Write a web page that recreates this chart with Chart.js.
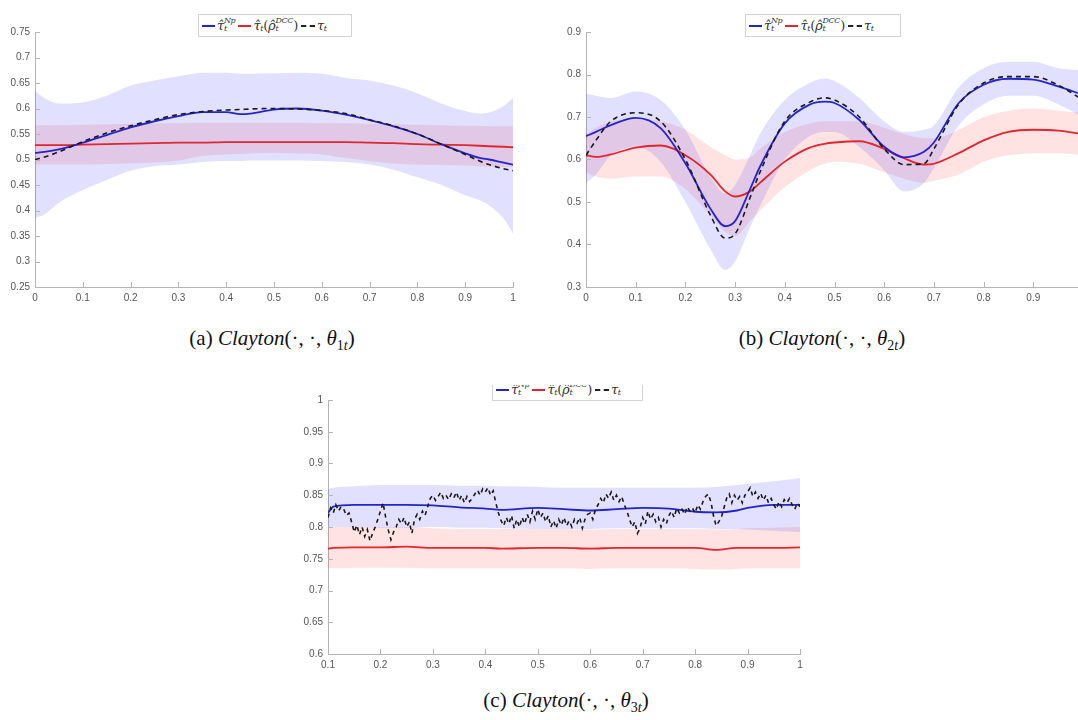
<!DOCTYPE html>
<html>
<head>
<meta charset="utf-8">
<script src="https://cdn.jsdelivr.net/npm/chart.js@4"></script>
<style>
  body { margin: 0; width: 1078px; height: 720px; overflow: hidden; background: #fff; position: relative; }
  .wrap { position: absolute; }
  .legend {
    position: absolute; background: #fff; border: 1px solid #d2d2d2; height: 23px;
    display: flex; align-items: center; box-sizing: border-box; padding: 0 3px;
    font: italic 13px 'DejaVu Serif', serif; color: #333; white-space: nowrap; letter-spacing: -0.3px;
  }
  .sw { display: inline-block; width: 13px; height: 0; border-top: 2px solid; margin-right: 2px; }
  .sw.dash { border-top: 2px dashed #222; width: 14px; }
  .stack { display: inline-flex; flex-direction: column; font-size: 8px; line-height: 8px; position: relative; top: -1px; }
  .gap { display: inline-block; width: 3px; }
  .up { font-style: normal; }
  .cap { position: absolute; font: 21px 'Liberation Serif', serif; color: #111; white-space: nowrap; transform: translateX(-50%); }
  .cap sub { font-size: 14px; }
  .clip { position: absolute; overflow: hidden; }
</style>
</head>
<body>

<div class="wrap" style="left:0;top:0"><canvas id="chA" width="540" height="320"></canvas></div>
<div class="wrap" style="left:545px;top:0"><canvas id="chB" width="560" height="320"></canvas></div>
<div class="wrap" style="left:290px;top:370px"><canvas id="chC" width="540" height="310"></canvas></div>

<div class="legend" style="left:198px;top:14px;width:154px">
  <span class="sw" style="border-color:#2424c8"></span><span>τ̂</span><span class="stack"><span>Np</span><span>t</span></span>
  <span class="gap"></span>
  <span class="sw" style="border-color:#e0262e"></span><span>τ̂</span><span class="stack"><span>&nbsp;</span><span>t</span></span><span class="up">(</span><span>ρ̂</span><span class="stack"><span>DCC</span><span>t</span></span><span class="up">)</span>
  <span class="gap"></span>
  <span class="sw dash"></span><span>τ</span><span class="stack"><span>&nbsp;</span><span>t</span></span>
</div>

<div class="legend" style="left:745px;top:14px;width:156px">
  <span class="sw" style="border-color:#2424c8"></span><span>τ̂</span><span class="stack"><span>Np</span><span>t</span></span>
  <span class="gap"></span>
  <span class="sw" style="border-color:#e0262e"></span><span>τ̂</span><span class="stack"><span>&nbsp;</span><span>t</span></span><span class="up">(</span><span>ρ̂</span><span class="stack"><span>DCC</span><span>t</span></span><span class="up">)</span>
  <span class="gap"></span>
  <span class="sw dash"></span><span>τ</span><span class="stack"><span>&nbsp;</span><span>t</span></span>
</div>

<div class="clip" style="left:488px;top:385px;width:160px;height:17px">
  <div class="legend" style="left:4px;top:-7px;width:151px">
    <span class="sw" style="border-color:#2424c8"></span><span>τ̂</span><span class="stack"><span>Np</span><span>t</span></span>
    <span class="gap"></span>
    <span class="sw" style="border-color:#e0262e"></span><span>τ̂</span><span class="stack"><span>&nbsp;</span><span>t</span></span><span class="up">(</span><span>ρ̂</span><span class="stack"><span>DCC</span><span>t</span></span><span class="up">)</span>
    <span class="gap"></span>
    <span class="sw dash"></span><span>τ</span><span class="stack"><span>&nbsp;</span><span>t</span></span>
  </div>
</div>

<div class="cap" style="left:272px;top:326px">(a) <i>Clayton</i>(·, ·, <i>θ</i><sub>1<i>t</i></sub>)</div>
<div class="cap" style="left:822px;top:326px">(b) <i>Clayton</i>(·, ·, <i>θ</i><sub>2<i>t</i></sub>)</div>
<div class="cap" style="left:566px;top:688px">(c) <i>Clayton</i>(·, ·, <i>θ</i><sub>3<i>t</i></sub>)</div>

<script>
// ── panel (a) ──
const tA     = [0, 0.02, 0.05, 0.1, 0.15, 0.2, 0.25, 0.3, 0.35, 0.4, 0.43, 0.45, 0.5, 0.55, 0.6, 0.65, 0.7, 0.75, 0.8, 0.85, 0.9, 0.93, 0.95, 0.98, 1];
const npA    = [0.513, 0.515, 0.52, 0.533, 0.548, 0.563, 0.575, 0.585, 0.593, 0.593, 0.589, 0.590, 0.598, 0.600, 0.596, 0.588, 0.577, 0.565, 0.550, 0.530, 0.512, 0.503, 0.500, 0.494, 0.490];
const tauA   = [0.500, 0.505, 0.515, 0.535, 0.552, 0.566, 0.578, 0.588, 0.594, 0.597, 0.598, 0.599, 0.600, 0.599, 0.596, 0.590, 0.578, 0.566, 0.550, 0.530, 0.510, 0.497, 0.490, 0.482, 0.478];
const dccA   = [0.528, 0.528, 0.528, 0.529, 0.530, 0.531, 0.532, 0.533, 0.533, 0.534, 0.534, 0.534, 0.534, 0.534, 0.534, 0.534, 0.533, 0.532, 0.530, 0.529, 0.528, 0.527, 0.526, 0.525, 0.524];
const npHiA  = [0.635, 0.620, 0.610, 0.612, 0.625, 0.645, 0.655, 0.663, 0.670, 0.670, 0.668, 0.668, 0.669, 0.670, 0.668, 0.660, 0.655, 0.645, 0.630, 0.610, 0.595, 0.590, 0.592, 0.605, 0.620];
const npLoA  = [0.385, 0.392, 0.415, 0.440, 0.460, 0.478, 0.487, 0.490, 0.495, 0.497, 0.497, 0.498, 0.498, 0.498, 0.497, 0.495, 0.490, 0.480, 0.465, 0.450, 0.430, 0.420, 0.410, 0.385, 0.355];
const dccHiA = [0.567, 0.567, 0.567, 0.568, 0.569, 0.570, 0.571, 0.571, 0.572, 0.572, 0.572, 0.572, 0.572, 0.572, 0.571, 0.571, 0.570, 0.569, 0.568, 0.567, 0.566, 0.566, 0.565, 0.565, 0.565];
const dccLoA = [0.490, 0.490, 0.490, 0.490, 0.491, 0.492, 0.494, 0.498, 0.507, 0.510, 0.511, 0.512, 0.513, 0.512, 0.510, 0.503, 0.497, 0.492, 0.490, 0.489, 0.488, 0.487, 0.486, 0.486, 0.485];

// ── panel (b) ──
const tB     = [0, 0.02, 0.05, 0.1, 0.15, 0.2, 0.25, 0.28, 0.3, 0.33, 0.35, 0.4, 0.45, 0.48, 0.5, 0.55, 0.6, 0.64, 0.68, 0.7, 0.75, 0.8, 0.85, 0.9, 0.95, 1];
const npB    = [0.655, 0.665, 0.681, 0.698, 0.674, 0.591, 0.485, 0.443, 0.455, 0.530, 0.583, 0.685, 0.729, 0.736, 0.733, 0.693, 0.630, 0.605, 0.618, 0.640, 0.733, 0.776, 0.790, 0.788, 0.772, 0.752];
const tauB   = [0.610, 0.645, 0.690, 0.710, 0.690, 0.600, 0.470, 0.415, 0.425, 0.510, 0.570, 0.690, 0.735, 0.745, 0.740, 0.700, 0.625, 0.588, 0.590, 0.625, 0.730, 0.780, 0.795, 0.795, 0.775, 0.740];
const dccB   = [0.610, 0.606, 0.612, 0.628, 0.633, 0.610, 0.565, 0.525, 0.513, 0.525, 0.545, 0.595, 0.628, 0.637, 0.640, 0.643, 0.625, 0.603, 0.588, 0.590, 0.615, 0.645, 0.665, 0.670, 0.668, 0.660];
const npHiB  = [0.755, 0.750, 0.745, 0.760, 0.740, 0.670, 0.560, 0.520, 0.540, 0.610, 0.660, 0.740, 0.780, 0.790, 0.785, 0.745, 0.690, 0.665, 0.670, 0.680, 0.770, 0.815, 0.830, 0.830, 0.815, 0.810];
const npLoB  = [0.545, 0.565, 0.610, 0.630, 0.595, 0.500, 0.390, 0.340, 0.360, 0.440, 0.490, 0.600, 0.655, 0.665, 0.665, 0.630, 0.575, 0.525, 0.545, 0.580, 0.680, 0.730, 0.750, 0.750, 0.730, 0.700];
const dccHiB = [0.660, 0.675, 0.690, 0.695, 0.690, 0.670, 0.630, 0.610, 0.600, 0.605, 0.625, 0.665, 0.685, 0.690, 0.690, 0.690, 0.675, 0.660, 0.650, 0.650, 0.670, 0.700, 0.715, 0.720, 0.715, 0.710];
const dccLoB = [0.570, 0.560, 0.555, 0.560, 0.560, 0.530, 0.470, 0.430, 0.420, 0.455, 0.480, 0.535, 0.575, 0.590, 0.595, 0.590, 0.570, 0.555, 0.545, 0.550, 0.565, 0.595, 0.610, 0.615, 0.615, 0.610];

// ── panel (c) ──
const tC     = [0.1, 0.11, 0.15, 0.2, 0.25, 0.3, 0.35, 0.4, 0.43, 0.5, 0.55, 0.6, 0.65, 0.7, 0.75, 0.8, 0.84, 0.88, 0.9, 0.95, 1];
const npC    = [0.822, 0.832, 0.835, 0.835, 0.835, 0.834, 0.831, 0.829, 0.827, 0.830, 0.828, 0.826, 0.828, 0.830, 0.829, 0.824, 0.823, 0.826, 0.830, 0.835, 0.835];
const dccC   = [0.766, 0.767, 0.768, 0.768, 0.769, 0.767, 0.767, 0.767, 0.766, 0.767, 0.767, 0.766, 0.767, 0.767, 0.767, 0.767, 0.764, 0.767, 0.767, 0.767, 0.768];
const npHiC  = [0.860, 0.862, 0.864, 0.866, 0.866, 0.866, 0.865, 0.865, 0.864, 0.863, 0.862, 0.862, 0.862, 0.862, 0.862, 0.862, 0.863, 0.866, 0.868, 0.872, 0.877];
const npLoC  = [0.798, 0.800, 0.800, 0.799, 0.799, 0.800, 0.799, 0.799, 0.798, 0.797, 0.797, 0.797, 0.798, 0.798, 0.798, 0.798, 0.797, 0.797, 0.796, 0.794, 0.792];
const dccHiC = [0.800, 0.800, 0.800, 0.800, 0.800, 0.798, 0.797, 0.797, 0.797, 0.797, 0.797, 0.796, 0.797, 0.797, 0.797, 0.797, 0.796, 0.797, 0.798, 0.799, 0.800];
const dccLoC = [0.735, 0.735, 0.736, 0.736, 0.736, 0.735, 0.735, 0.735, 0.735, 0.735, 0.735, 0.734, 0.735, 0.735, 0.735, 0.734, 0.733, 0.734, 0.735, 0.735, 0.735];
const tTauC  = [
    0.100, 0.105, 0.110, 0.115, 0.120, 0.125, 0.130, 0.135, 0.140, 0.145, 0.150, 0.155, 0.160, 0.165, 0.170, 0.175, 0.180, 0.185, 0.190, 0.195,
    0.200, 0.205, 0.210, 0.215, 0.220, 0.225, 0.230, 0.235, 0.240, 0.245, 0.250, 0.255, 0.260, 0.265, 0.270, 0.275, 0.280, 0.285, 0.290, 0.295,
    0.300, 0.305, 0.310, 0.315, 0.320, 0.325, 0.330, 0.335, 0.340, 0.345, 0.350, 0.355, 0.360, 0.365, 0.370, 0.375, 0.380, 0.385, 0.390, 0.395,
    0.400, 0.405, 0.410, 0.415, 0.420, 0.425, 0.430, 0.435, 0.440, 0.445, 0.450, 0.455, 0.460, 0.465, 0.470, 0.475, 0.480, 0.485, 0.490, 0.495,
    0.500, 0.505, 0.510, 0.515, 0.520, 0.525, 0.530, 0.535, 0.540, 0.545, 0.550, 0.555, 0.560, 0.565, 0.570, 0.575, 0.580, 0.585, 0.590, 0.595,
    0.600, 0.605, 0.610, 0.615, 0.620, 0.625, 0.630, 0.635, 0.640, 0.645, 0.650, 0.655, 0.660, 0.665, 0.670, 0.675, 0.680, 0.685, 0.690, 0.695,
    0.700, 0.705, 0.710, 0.715, 0.720, 0.725, 0.730, 0.735, 0.740, 0.745, 0.750, 0.755, 0.760, 0.765, 0.770, 0.775, 0.780, 0.785, 0.790, 0.795,
    0.800, 0.805, 0.810, 0.815, 0.820, 0.825, 0.830, 0.835, 0.840, 0.845, 0.850, 0.855, 0.860, 0.865, 0.870, 0.875, 0.880, 0.885, 0.890, 0.895,
    0.900, 0.905, 0.910, 0.915, 0.920, 0.925, 0.930, 0.935, 0.940, 0.945, 0.950, 0.955, 0.960, 0.965, 0.970, 0.975, 0.980, 0.985, 0.990, 0.995,
    1.000];
const tauC   = [
    0.815, 0.830, 0.822, 0.835, 0.825, 0.832, 0.828, 0.818, 0.822, 0.808, 0.792, 0.803, 0.788, 0.800, 0.785, 0.796, 0.778, 0.790, 0.800, 0.812,
    0.825, 0.838, 0.815, 0.795, 0.780, 0.792, 0.800, 0.812, 0.805, 0.815, 0.800, 0.808, 0.790, 0.812, 0.820, 0.812, 0.825, 0.818, 0.832, 0.845,
    0.850, 0.842, 0.848, 0.855, 0.845, 0.850, 0.843, 0.852, 0.846, 0.855, 0.842, 0.850, 0.838, 0.848, 0.840, 0.845, 0.852, 0.858, 0.850, 0.860,
    0.855, 0.862, 0.850, 0.857, 0.838, 0.822, 0.810, 0.802, 0.815, 0.805, 0.818, 0.798, 0.812, 0.800, 0.815, 0.805, 0.820, 0.808, 0.825, 0.812,
    0.828, 0.815, 0.822, 0.808, 0.818, 0.800, 0.810, 0.798, 0.812, 0.803, 0.815, 0.802, 0.810, 0.800, 0.812, 0.806, 0.815, 0.798, 0.812, 0.820,
    0.822, 0.812, 0.828, 0.835, 0.845, 0.838, 0.852, 0.845, 0.855, 0.842, 0.850, 0.840, 0.848, 0.835, 0.825, 0.812, 0.800, 0.808, 0.790, 0.798,
    0.815, 0.805, 0.825, 0.812, 0.820, 0.808, 0.815, 0.800, 0.812, 0.805, 0.818, 0.825, 0.815, 0.830, 0.822, 0.828, 0.820, 0.832, 0.825, 0.830,
    0.822, 0.835, 0.828, 0.840, 0.848, 0.852, 0.840, 0.818, 0.802, 0.808, 0.815, 0.830, 0.845, 0.852, 0.838, 0.850, 0.842, 0.848, 0.838, 0.850,
    0.855, 0.862, 0.848, 0.855, 0.845, 0.853, 0.842, 0.850, 0.838, 0.845, 0.835, 0.828, 0.840, 0.832, 0.843, 0.838, 0.845, 0.835, 0.828, 0.838,
    0.832];

const BLUE = '#2424c8';
const RED = '#e0262e';
const BLUE_FILL = 'rgba(40,40,255,0.14)';
const RED_FILL = 'rgba(255,30,30,0.13)';

const pts = (xs, ys) => xs.map((x, i) => ({ x, y: ys[i] }));
const fmt = v => String(+v.toFixed(2));

// inward tick marks, MATLAB style
const innerTicks = {
    id: 'innerTicks',
    afterDraw(chart) {
        const { ctx, chartArea: a, scales } = chart;
        ctx.save();
        ctx.strokeStyle = '#b4b4b4';
        ctx.lineWidth = 1;
        ctx.beginPath();
        scales.x.ticks.forEach(t => {
            const px = Math.round(scales.x.getPixelForValue(t.value)) + 0.5;
            ctx.moveTo(px, a.bottom); ctx.lineTo(px, a.bottom - 5);
        });
        scales.y.ticks.forEach(t => {
            const py = Math.round(scales.y.getPixelForValue(t.value)) + 0.5;
            ctx.moveTo(a.left, py); ctx.lineTo(a.left + 5, py);
        });
        ctx.stroke();
        ctx.restore();
    }
};

function makeChart(id, o) {
    const mode = o.tension ? 'monotone' : 'default';
    const band = (data, bg, fill) => ({
        data, borderWidth: 0, borderColor: 'transparent', backgroundColor: bg,
        tension: o.tension, cubicInterpolationMode: mode, fill
    });
    const datasets = [
        { data: pts(o.tTau || o.t, o.tau), borderColor: '#1a1a1a', borderWidth: 1.6, borderDash: o.dash,
          tension: o.tauTension, cubicInterpolationMode: o.tauTension ? 'monotone' : 'default', fill: false },
        { data: pts(o.t, o.np), borderColor: BLUE, borderWidth: 1.8, tension: o.tension, cubicInterpolationMode: mode, fill: false },
        { data: pts(o.t, o.dcc), borderColor: RED, borderWidth: 1.8, tension: o.tension, cubicInterpolationMode: mode, fill: false },
        band(pts(o.t, o.npHi), BLUE_FILL, '+1'),
        band(pts(o.t, o.npLo), 'transparent', false),
        band(pts(o.t, o.dccHi), RED_FILL, '+1'),
        band(pts(o.t, o.dccLo), 'transparent', false)
    ];
    const tickFont = { family: 'Liberation Sans', size: 10 };
    return new Chart(document.getElementById(id), {
        type: 'line',
        data: { datasets },
        options: {
            responsive: false,
            animation: false,
            devicePixelRatio: 1,
            layout: { padding: o.pad },
            elements: { point: { radius: 0 } },
            plugins: { legend: { display: false }, tooltip: { enabled: false } },
            scales: {
                x: {
                    type: 'linear', min: o.xMin, max: o.xMax,
                    grid: { drawOnChartArea: false, drawTicks: false },
                    border: { color: '#b4b4b4' },
                    ticks: { stepSize: 0.1, color: '#555', font: tickFont, padding: 5, maxRotation: 0, callback: fmt },
                    afterFit: s => { s.height = o.xH; }
                },
                y: {
                    min: o.yMin, max: o.yMax,
                    grid: { drawOnChartArea: false, drawTicks: false },
                    border: { color: '#b4b4b4' },
                    ticks: { stepSize: o.yStep, color: '#555', font: tickFont, padding: 5, callback: fmt },
                    afterFit: s => { s.width = o.yW; }
                }
            }
        },
        plugins: [innerTicks]
    });
}

makeChart('chA', {
    t: tA, np: npA, tau: tauA, dcc: dccA, npHi: npHiA, npLo: npLoA, dccHi: dccHiA, dccLo: dccLoA,
    tension: 0.4, tauTension: 0.4, dash: [5, 4],
    xMin: 0, xMax: 1, yMin: 0.25, yMax: 0.75, yStep: 0.05,
    pad: { top: 32, right: 27, left: 0, bottom: 0 }, yW: 35, xH: 33
});

makeChart('chB', {
    t: tB, np: npB, tau: tauB, dcc: dccB, npHi: npHiB, npLo: npLoB, dccHi: dccHiB, dccLo: dccLoB,
    tension: 0.4, tauTension: 0.4, dash: [5, 4],
    xMin: 0, xMax: 1, yMin: 0.3, yMax: 0.9, yStep: 0.1,
    pad: { top: 32, right: 22, left: 0, bottom: 0 }, yW: 41, xH: 33
});

makeChart('chC', {
    t: tC, np: npC, tau: tauC, tTau: tTauC, dcc: dccC, npHi: npHiC, npLo: npLoC, dccHi: dccHiC, dccLo: dccLoC,
    tension: 0.3, tauTension: 0, dash: [4, 4],
    xMin: 0.1, xMax: 1, yMin: 0.6, yMax: 1, yStep: 0.05,
    pad: { top: 30, right: 30, left: 0, bottom: 0 }, yW: 38, xH: 26
});
</script>
</body>
</html>
